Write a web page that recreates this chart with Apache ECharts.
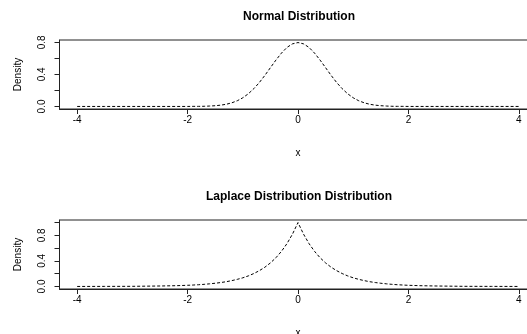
<!DOCTYPE html>
<html>
<head>
<meta charset="utf-8">
<script src="https://cdn.jsdelivr.net/npm/echarts@6/dist/echarts.min.js"></script>
<style>
  html, body { margin: 0; padding: 0; background: #fff; }
  #chart { width: 527px; height: 334px; }
</style>
</head>
<body>
<div id="chart"></div>
<script>
// x positions of the density curves
var xs = [-4, -3.5, -3, -2.5, -2.2,
  -2.0, -1.9, -1.8, -1.7, -1.6, -1.5, -1.4, -1.3, -1.2, -1.1,
  -1.0, -0.9, -0.8, -0.7, -0.6, -0.5, -0.4, -0.3, -0.2, -0.1,
  0,
  0.1, 0.2, 0.3, 0.4, 0.5, 0.6, 0.7, 0.8, 0.9, 1.0,
  1.1, 1.2, 1.3, 1.4, 1.5, 1.6, 1.7, 1.8, 1.9, 2.0,
  2.2, 2.5, 3, 3.5, 4];

var normalDensity = [0, 0, 0, 0, 0,
  0.000, 0.001, 0.001, 0.002, 0.005, 0.009, 0.016, 0.027, 0.045, 0.071,
  0.108, 0.158, 0.222, 0.299, 0.388, 0.484, 0.579, 0.666, 0.737, 0.782,
  0.798,
  0.782, 0.737, 0.666, 0.579, 0.484, 0.388, 0.299, 0.222, 0.158, 0.108,
  0.071, 0.045, 0.027, 0.016, 0.009, 0.005, 0.002, 0.001, 0.001, 0.000,
  0, 0, 0, 0, 0];

var laplaceDensity = [0.000, 0.001, 0.002, 0.007, 0.012,
  0.018, 0.022, 0.027, 0.033, 0.041, 0.050, 0.061, 0.074, 0.091, 0.111,
  0.135, 0.165, 0.202, 0.247, 0.301, 0.368, 0.449, 0.549, 0.670, 0.819,
  1.000,
  0.819, 0.670, 0.549, 0.449, 0.368, 0.301, 0.247, 0.202, 0.165, 0.135,
  0.111, 0.091, 0.074, 0.061, 0.050, 0.041, 0.033, 0.027, 0.022, 0.018,
  0.012, 0.007, 0.002, 0.001, 0.000];

var xTicks = [-4, -2, 0, 2, 4];
var normalYTicks = [0, 0.2, 0.4, 0.6, 0.8];
var laplaceYTicks = [0, 0.2, 0.4, 0.6, 0.8, 1.0];
var yLabels = [0, 0.4, 0.8];

var titles = ['Normal Distribution', 'Laplace Distribution Distribution'];

function pairs(ys) {
    return xs.map(function (x, i) { return [x, ys[i]]; });
}

var font = 'Liberation Sans, Arial, sans-serif';
var ink = '#222';

function xAxisFor(idx) {
    return {
        gridIndex: idx,
        type: 'value',
        min: -4.32,
        max: 4.32,
        name: 'x',
        nameLocation: 'middle',
        nameGap: 39,
        nameTextStyle: { fontFamily: font, fontSize: 10, color: '#000' },
        splitLine: { show: false },
        axisLine: { show: true, onZero: false, lineStyle: { color: ink, width: 1 } },
        axisTick: { show: true, customValues: xTicks, length: 5, lineStyle: { color: ink } },
        axisLabel: {
            customValues: xTicks,
            margin: 6,
            fontFamily: font, fontSize: 10, color: '#000',
            formatter: function (v) { return String(v); }
        }
    };
}

function yAxisFor(idx, min, max, ticks) {
    return {
        gridIndex: idx,
        type: 'value',
        min: min,
        max: max,
        name: 'Density',
        nameLocation: 'middle',
        nameGap: 36,
        nameTextStyle: { fontFamily: font, fontSize: 10, color: '#000' },
        splitLine: { show: false },
        axisLine: { show: true, onZero: false, lineStyle: { color: ink, width: 1 } },
        axisTick: { show: true, customValues: ticks, length: 5, lineStyle: { color: ink } },
        axisLabel: {
            customValues: yLabels,
            rotate: 90,
            margin: 12,
            fontFamily: font, fontSize: 10, color: '#000',
            formatter: function (v) { return v.toFixed(1); }
        }
    };
}

var chart = echarts.init(document.getElementById('chart'));

var option = {
    animation: false,
    backgroundColor: '#fff',
    title: [{
        text: titles[0],
        left: 294, top: 6, textAlign: 'center',
        textStyle: { fontFamily: font, fontSize: 12, fontWeight: 'bold', color: '#000' }
    }, {
        text: titles[1],
        left: 294, top: 186, textAlign: 'center',
        textStyle: { fontFamily: font, fontSize: 12, fontWeight: 'bold', color: '#000' }
    }],
    grid: [
        { left: 59.5, top: 40, width: 477, height: 69, outerBoundsMode: 'none',
          show: true, borderColor: ink, borderWidth: 1, backgroundColor: 'transparent' },
        { left: 59.5, top: 220, width: 477, height: 69, outerBoundsMode: 'none',
          show: true, borderColor: ink, borderWidth: 1, backgroundColor: 'transparent' }
    ],
    xAxis: [xAxisFor(0), xAxisFor(1)],
    yAxis: [
        yAxisFor(0, -0.032, 0.830, normalYTicks),
        yAxisFor(1, -0.04, 1.04, laplaceYTicks)
    ],
    series: [{
        type: 'line',
        xAxisIndex: 0, yAxisIndex: 0,
        data: pairs(normalDensity),
        showSymbol: false,
        lineStyle: { color: '#000', width: 1, type: [3, 2] }
    }, {
        type: 'line',
        xAxisIndex: 1, yAxisIndex: 1,
        data: pairs(laplaceDensity),
        showSymbol: false,
        lineStyle: { color: '#000', width: 1, type: [3, 2] }
    }]
};

option && chart.setOption(option);
window.addEventListener('resize', chart.resize);
</script>
</body>
</html>
